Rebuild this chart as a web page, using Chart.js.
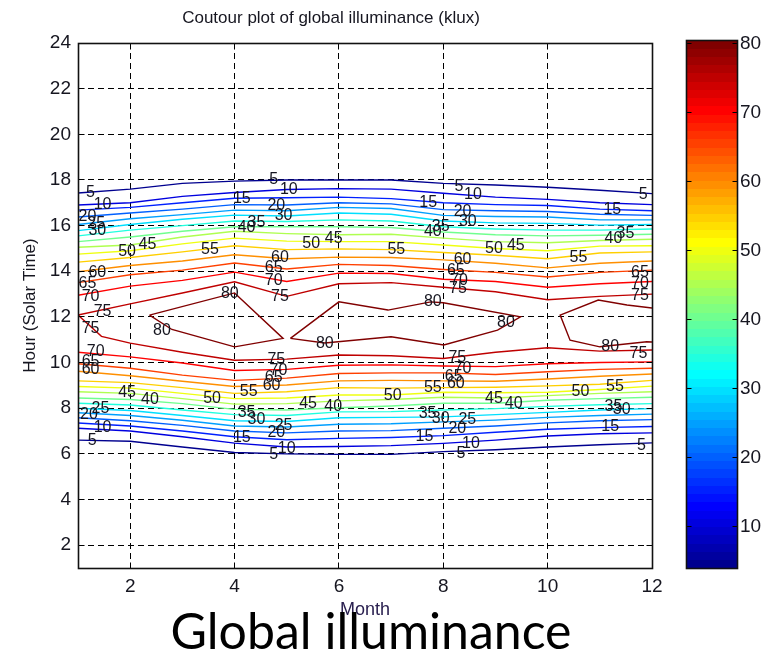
<!DOCTYPE html>
<html>
<head>
<meta charset="utf-8">
<script src="https://cdn.jsdelivr.net/npm/chart.js@4.4.1/dist/chart.umd.min.js"></script>
<style>
  html, body { margin: 0; padding: 0; background: #fff; }
  #wrap { position: relative; width: 764px; height: 654px; overflow: hidden; background: #fff; }
  #main { position: absolute; left: 0; top: 0; }
  #cbar { position: absolute; left: 685px; top: 0; }
  #caption { position: absolute; left: 0; width: 742px; top: 605px; text-align: center;
             font-family: Lato, "Open Sans", sans-serif; font-size: 50px; line-height: 1; color: #000; }
</style>
</head>
<body>
<div id="wrap">
  <canvas id="main" width="764" height="654"></canvas>
  <canvas id="cbar" width="79" height="654"></canvas>
  <div id="caption">Global illuminance</div>
</div>
<script>
// ---- data: hour (solar time) where each contour level is crossed, months 1..12 ----
const months = [1, 2, 3, 4, 5, 6, 7, 8, 9, 10, 11, 12];
const levels = [5, 10, 15, 20, 25, 30, 35, 40, 45, 50, 55, 60, 65, 70];

// morning side
const am05 = [6.6, 6.55, 6.3, 6.06, 6.0, 5.98, 5.98, 6.1, 6.18, 6.3, 6.4, 6.48];
const am10 = [7.12, 7.0, 6.75, 6.47, 6.3, 6.32, 6.36, 6.46, 6.6, 6.78, 6.88, 6.92];
const am15 = [7.35, 7.22, 7.0, 6.75, 6.62, 6.68, 6.72, 6.8, 6.95, 7.08, 7.15, 7.2];
const am20 = [7.58, 7.45, 7.25, 7.0, 6.92, 7.0, 7.02, 7.12, 7.22, 7.36, 7.45, 7.5];
const am25 = [7.8, 7.68, 7.47, 7.22, 7.18, 7.3, 7.32, 7.4, 7.48, 7.6, 7.68, 7.74];
const am30 = [8.0, 7.9, 7.68, 7.45, 7.42, 7.58, 7.6, 7.62, 7.72, 7.82, 7.92, 7.98];
const am35 = [8.22, 8.14, 7.92, 7.72, 7.68, 7.84, 7.85, 7.92, 7.98, 8.08, 8.15, 8.2];
const am40 = [8.45, 8.38, 8.2, 7.95, 7.92, 8.02, 8.1, 8.22, 8.22, 8.35, 8.42, 8.48];
const am45 = [8.72, 8.65, 8.42, 8.18, 8.2, 8.32, 8.38, 8.48, 8.45, 8.55, 8.65, 8.72];
const am50 = [8.95, 8.88, 8.65, 8.42, 8.45, 8.58, 8.58, 8.7, 8.68, 8.7, 8.82, 8.97];
const am55 = [9.2, 9.12, 8.9, 8.65, 8.72, 8.9, 8.88, 8.9, 8.92, 8.98, 9.05, 9.22];
const am60 = [9.62, 9.42, 9.18, 8.95, 9.02, 9.2, 9.22, 9.2, 9.18, 9.28, 9.4, 9.5];
const am65 = [9.95, 9.75, 9.45, 9.22, 9.32, 9.52, 9.55, 9.55, 9.48, 9.6, 9.7, 9.75];
const am70 = [10.45, 10.25, 9.98, 9.65, 9.7, 9.88, 9.9, 9.85, 9.82, 9.95, 10.0, 10.03];

// afternoon side
const pm05 = [17.43, 17.6, 17.85, 17.95, 18.0, 18.0, 18.0, 17.85, 17.78, 17.68, 17.55, 17.4];
const pm10 = [16.9, 17.0, 17.28, 17.45, 17.58, 17.62, 17.6, 17.42, 17.25, 17.15, 17.0, 16.92];
const pm15 = [16.68, 16.8, 17.0, 17.2, 17.22, 17.25, 17.18, 17.0, 16.92, 16.88, 16.72, 16.65];
const pm20 = [16.38, 16.55, 16.72, 16.92, 16.9, 17.0, 16.95, 16.7, 16.65, 16.62, 16.5, 16.45];
const pm25 = [16.05, 16.3, 16.48, 16.68, 16.65, 16.8, 16.75, 16.45, 16.4, 16.38, 16.25, 16.25];
const pm30 = [15.78, 16.05, 16.28, 16.46, 16.42, 16.55, 16.5, 16.2, 16.12, 16.1, 16.02, 16.05];
const pm35 = [15.55, 15.8, 16.0, 16.2, 16.18, 16.25, 16.2, 15.95, 15.85, 15.8, 15.8, 15.85];
const pm40 = [15.3, 15.5, 15.75, 15.95, 15.95, 15.95, 15.92, 15.72, 15.6, 15.55, 15.58, 15.62];
const pm45 = [15.05, 15.15, 15.5, 15.75, 15.65, 15.6, 15.62, 15.45, 15.3, 15.25, 15.35, 15.4];
const pm50 = [14.75, 14.9, 15.2, 15.45, 15.32, 15.3, 15.3, 15.15, 15.0, 14.9, 15.1, 15.12];
const pm55 = [14.4, 14.6, 14.85, 15.12, 14.95, 14.98, 14.95, 14.82, 14.7, 14.55, 14.8, 14.85];
const pm60 = [13.98, 14.25, 14.45, 14.72, 14.55, 14.62, 14.6, 14.5, 14.35, 14.15, 14.35, 14.45];
const pm65 = [13.5, 13.85, 14.05, 14.36, 14.1, 14.3, 14.25, 14.08, 13.95, 13.75, 13.95, 14.05];
const pm70 = [12.95, 13.35, 13.6, 13.96, 13.55, 13.92, 13.9, 13.65, 13.55, 13.3, 13.45, 13.55];

// 75 klux contour: one line that closes at the left edge, [month, hour]
const contour75 = [[12, 13.0], [11, 12.9], [10, 12.75], [9, 13.1], [8, 13.3], [7, 13.5], [6, 13.45],
  [5, 12.9], [4, 13.54], [3, 13.05], [2, 12.57], [1, 12.08], [1.45, 11.15], [2, 10.85], [3, 10.45],
  [4, 10.1], [5, 10.15], [6, 10.33], [7, 10.3], [8, 10.18], [9, 10.45], [10, 10.65], [11, 10.5], [12, 10.55]];

// 80 klux contour: three pieces around noon
const contour80a = [[2.37, 12.08], [4.0, 13.05], [4.93, 11.06], [4.0, 10.69], [2.8, 11.45], [2.37, 12.08]];
const contour80b = [[5.07, 11.06], [6.0, 12.66], [6.94, 12.3], [7.76, 12.66], [8.0, 12.62], [9.48, 12.0],
  [9.04, 11.42], [8.01, 10.77], [7.0, 11.13], [5.73, 10.86], [5.07, 11.06]];
const contour80c = [[12, 12.39], [11.52, 12.52], [10.97, 12.74], [10.24, 12.08], [10.43, 10.98],
  [11.0, 10.69], [11.9, 10.91], [12, 10.9]];

// inline contour labels: [text, month, hour]
const labelSpots = [
  ['5', 1.24, 17.43], ['10', 1.47, 16.9], ['20', 1.18, 16.4], ['25', 1.35, 16.1], ['30', 1.37, 15.8],
  ['50', 1.94, 14.88], ['45', 2.33, 15.19], ['55', 3.53, 14.97],
  ['60', 1.37, 13.96], ['65', 1.18, 13.48], ['70', 1.24, 12.9], ['75', 1.47, 12.25],
  ['15', 4.14, 17.2], ['5', 4.75, 18.0], ['10', 5.04, 17.56], ['20', 4.8, 16.86], ['30', 4.94, 16.42],
  ['35', 4.42, 16.15], ['40', 4.23, 15.9], ['50', 5.47, 15.23], ['45', 5.9, 15.45],
  ['60', 4.87, 14.58], ['65', 4.75, 14.14], ['70', 4.75, 13.61], ['75', 4.87, 12.87], ['80', 3.91, 13.0],
  ['55', 7.1, 14.93], ['15', 7.71, 17.03], ['5', 8.3, 17.73], ['10', 8.57, 17.34], ['20', 8.37, 16.6],
  ['30', 8.47, 16.16], ['35', 7.95, 15.94], ['40', 7.8, 15.72], ['50', 8.97, 15.0], ['45', 9.39, 15.14],
  ['60', 8.37, 14.49], ['65', 8.24, 14.05], ['70', 8.3, 13.61], ['75', 8.28, 13.26], ['80', 7.8, 12.65],
  ['55', 10.59, 14.58], ['15', 11.24, 16.68], ['5', 11.83, 17.34], ['35', 11.49, 15.67], ['40', 11.26, 15.45],
  ['65', 11.77, 13.96], ['70', 11.77, 13.48], ['75', 11.77, 12.95],
  ['80', 9.2, 11.77], ['80', 2.61, 11.42], ['80', 5.73, 10.85], ['80', 11.2, 10.69], ['75', 11.74, 10.4],
  ['75', 1.24, 11.5], ['70', 1.34, 10.47], ['65', 1.24, 10.05], ['60', 1.24, 9.7],
  ['5', 1.27, 6.56], ['10', 1.47, 7.13], ['20', 1.21, 7.7], ['25', 1.43, 8.0], ['45', 1.94, 8.7], ['40', 2.38, 8.36],
  ['50', 3.57, 8.44], ['55', 4.27, 8.71], ['60', 4.71, 8.97], ['65', 4.75, 9.32], ['70', 4.84, 9.67], ['75', 4.8, 10.11],
  ['35', 4.23, 7.79], ['30', 4.42, 7.48], ['25', 4.94, 7.22], ['20', 4.8, 6.95], ['15', 4.14, 6.73],
  ['10', 5.0, 6.25], ['5', 4.75, 5.95], ['45', 5.41, 8.21], ['40', 5.89, 8.06], ['50', 7.03, 8.57],
  ['55', 7.8, 8.91], ['60', 8.24, 9.09], ['65', 8.2, 9.4], ['70', 8.37, 9.75], ['75', 8.27, 10.2],
  ['35', 7.7, 7.77], ['30', 7.95, 7.55], ['25', 8.46, 7.48], ['20', 8.27, 7.12], ['15', 7.64, 6.75],
  ['10', 8.53, 6.46], ['5', 8.34, 6.02], ['45', 8.97, 8.43], ['40', 9.35, 8.2],
  ['50', 10.63, 8.72], ['55', 11.29, 8.94], ['35', 11.26, 8.09], ['30', 11.42, 7.92], ['15', 11.2, 7.19], ['5', 11.8, 6.38]
];

const xTicks = [2, 4, 6, 8, 10, 12];
const yTicks = [2, 4, 6, 8, 10, 12, 14, 16, 18, 20, 22, 24];
const cbarTicks = [10, 20, 30, 40, 50, 60, 70, 80];
const cMin = 4.0, cMax = 80.5;

const morning = [am05, am10, am15, am20, am25, am30, am35, am40, am45, am50, am55, am60, am65, am70];
const evening = [pm05, pm10, pm15, pm20, pm25, pm30, pm35, pm40, pm45, pm50, pm55, pm60, pm65, pm70];

const FONT = '"Liberation Sans", Arial, sans-serif';
const TXT = '#161620';

// matlab jet(64)
function jetColors(n) {
  const m = Math.ceil(n / 4);
  const u = [];
  for (let i = 1; i <= m; i++) u.push(i / m);
  for (let i = 1; i < m; i++) u.push(1);
  for (let i = m; i >= 1; i--) u.push(i / m);
  const g0 = Math.ceil(m / 2) - (n % 4 === 1 ? 1 : 0);
  const J = Array.from({ length: n }, () => [0, 0, 0]);
  u.forEach((val, j) => {
    const g = g0 + j + 1, r = g + m, b = g - m;
    if (r <= n) J[r - 1][0] = val;
    if (g <= n) J[g - 1][1] = val;
    if (b >= 1) J[b - 1][2] = val;
  });
  return J.map(c => `rgb(${Math.round(c[0] * 255)},${Math.round(c[1] * 255)},${Math.round(c[2] * 255)})`);
}
const JET = jetColors(64);
function levelColor(L) {
  const k = Math.min(63, Math.max(0, Math.floor((L - cMin) / (cMax - cMin) * 64)));
  return JET[k];
}

function lineSet(points, L) {
  return { data: points, borderColor: levelColor(L), borderWidth: 1.4, pointRadius: 0,
           showLine: true, tension: 0, fill: false };
}
const asXY = arr => arr.map(([m, h]) => ({ x: m, y: h }));

const datasets = [];
levels.forEach((L, i) => {
  datasets.push(lineSet(months.map((m, j) => ({ x: m, y: morning[i][j] })), L));
  datasets.push(lineSet(months.map((m, j) => ({ x: m, y: evening[i][j] })), L));
});
datasets.push(lineSet(asXY(contour75), 75));
[contour80a, contour80b, contour80c].forEach(c => datasets.push(lineSet(asXY(c), 80)));

const px = v => Math.round(v - 0.5) + 0.5;

const framePlugin = {
  id: 'frame',
  afterDatasetsDraw(chart) {
    const { ctx, chartArea: a, scales: { x, y } } = chart;
    const L = px(a.left), R = px(a.right), T = px(a.top), B = px(a.bottom);
    ctx.save();
    ctx.strokeStyle = '#000';
    ctx.lineWidth = 1;
    ctx.beginPath();
    xTicks.forEach(v => {
      const xx = px(x.getPixelForValue(v));
      ctx.moveTo(xx, B); ctx.lineTo(xx, B - 6);
      ctx.moveTo(xx, T); ctx.lineTo(xx, T + 6);
    });
    yTicks.forEach(v => {
      const yy = px(y.getPixelForValue(v));
      ctx.moveTo(L, yy); ctx.lineTo(L + 6, yy);
      ctx.moveTo(R, yy); ctx.lineTo(R - 6, yy);
    });
    ctx.stroke();
    ctx.lineWidth = 1.6;
    ctx.strokeStyle = '#111';
    ctx.strokeRect(L, T, R - L, B - T);
    ctx.restore();
  }
};

const labelPlugin = {
  id: 'contourLabels',
  afterDatasetsDraw(chart) {
    const { ctx, scales: { x, y } } = chart;
    ctx.save();
    ctx.font = '16px "Liberation Sans", Arial, sans-serif';
    ctx.fillStyle = TXT;
    ctx.textAlign = 'center';
    ctx.textBaseline = 'middle';
    labelSpots.forEach(([t, m, h]) => ctx.fillText(t, x.getPixelForValue(m), y.getPixelForValue(h)));
    ctx.restore();
  }
};

new Chart(document.getElementById('main'), {
  type: 'scatter',
  data: { datasets },
  options: {
    responsive: false,
    animation: false,
    layout: { padding: { left: 10, right: 112, top: 0, bottom: 0 } },
    plugins: {
      legend: { display: false },
      tooltip: { enabled: false },
      title: {
        display: true,
        text: 'Coutour plot of global illuminance (klux)',
        color: TXT,
        font: { family: FONT, size: 17, weight: 'normal' },
        padding: { top: 8, bottom: 14.6 }
      }
    },
    scales: {
      x: {
        type: 'linear', min: 1, max: 12,
        afterBuildTicks: s => { s.ticks = xTicks.map(v => ({ value: v })); },
        afterFit: s => { s.height = 86; },
        grid: { color: '#000', lineWidth: 1, drawTicks: false },
        border: { display: false, dash: [6, 4] },
        ticks: { color: TXT, padding: 7, font: { family: FONT, size: 19 } },
        title: { display: true, text: 'Month', color: '#2a2050', font: { family: FONT, size: 18 },
                 padding: { top: 0, bottom: 33 } }
      },
      y: {
        type: 'linear', min: 1, max: 24,
        afterBuildTicks: s => { s.ticks = yTicks.map(v => ({ value: v })); },
        afterFit: s => { s.width = 68; },
        grid: { color: '#000', lineWidth: 1, drawTicks: false },
        border: { display: false, dash: [6, 4] },
        ticks: { color: TXT, padding: 7, font: { family: FONT, size: 19 } },
        title: { display: true, text: 'Hour (Solar Time)', color: TXT, font: { family: FONT, size: 17 },
                 padding: { top: 10, bottom: 0 } }
      }
    }
  },
  plugins: [framePlugin, labelPlugin]
});

// ---- colorbar ----
const cbarPlugin = {
  id: 'cbar',
  beforeDatasetsDraw(chart) {
    const { ctx, chartArea: a, scales: { y } } = chart;
    const step = (cMax - cMin) / JET.length;
    ctx.save();
    JET.forEach((c, k) => {
      const yLo = y.getPixelForValue(cMin + k * step);
      const yHi = y.getPixelForValue(cMin + (k + 1) * step);
      ctx.fillStyle = c;
      ctx.fillRect(a.left, Math.floor(yHi), a.right - a.left, Math.ceil(yLo) - Math.floor(yHi));
    });
    const L = px(a.left), R = px(a.right), T = px(a.top), B = px(a.bottom);
    ctx.strokeStyle = '#000';
    ctx.lineWidth = 1;
    ctx.beginPath();
    cbarTicks.forEach(v => {
      const yy = px(y.getPixelForValue(v));
      ctx.moveTo(L, yy); ctx.lineTo(L + 5, yy);
      ctx.moveTo(R, yy); ctx.lineTo(R - 5, yy);
    });
    ctx.stroke();
    ctx.lineWidth = 1.6;
    ctx.strokeStyle = '#111';
    ctx.strokeRect(L, T, R - L, B - T);
    ctx.restore();
  }
};

new Chart(document.getElementById('cbar'), {
  type: 'bar',
  data: { labels: [''], datasets: [] },
  options: {
    responsive: false,
    animation: false,
    layout: { padding: { left: 1, right: 0, top: 40, bottom: 86 } },
    plugins: { legend: { display: false }, tooltip: { enabled: false } },
    scales: {
      x: { display: false },
      y: {
        position: 'right', min: cMin, max: cMax,
        afterBuildTicks: s => { s.ticks = cbarTicks.map(v => ({ value: v })); },
        afterFit: s => { s.width = 27; },
        grid: { display: false, drawTicks: false, tickLength: 0 },
        border: { display: false },
        ticks: { color: TXT, padding: 3, font: { family: FONT, size: 19 } }
      }
    }
  },
  plugins: [cbarPlugin]
});
</script>
</body>
</html>
